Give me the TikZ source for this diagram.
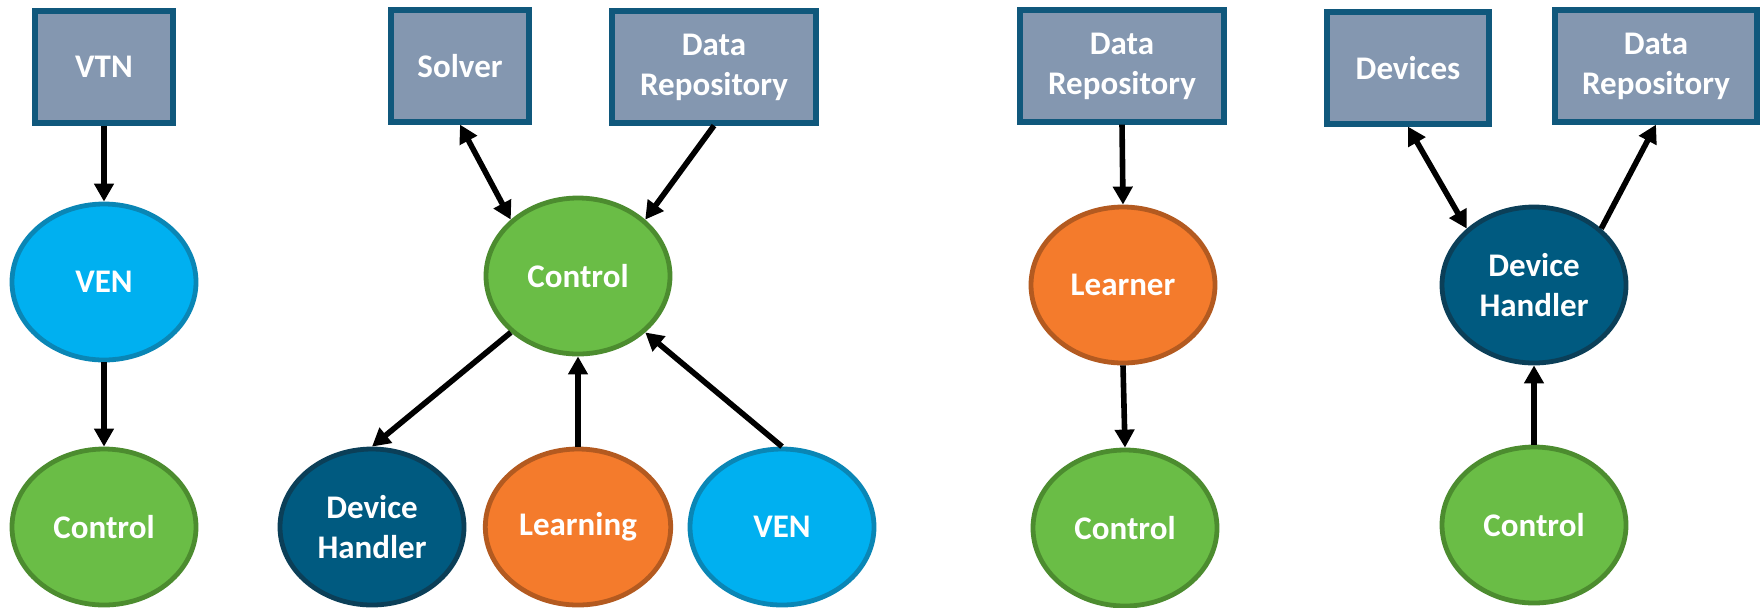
\documentclass[tikz,border=0pt]{standalone}
\usepackage{fontspec}
\setmainfont{Carlito}
\usepackage{tikz}
\usetikzlibrary{arrows.meta,shapes.geometric}

\definecolor{boxfill}{HTML}{8497B0}
\definecolor{boxline}{HTML}{10587C}
\definecolor{venfill}{HTML}{00B0F0}
\definecolor{venline}{HTML}{0A86B5}
\definecolor{ctrlfill}{HTML}{6ABD46}
\definecolor{ctrlline}{HTML}{4C8C2F}
\definecolor{dhfill}{HTML}{005A80}
\definecolor{dhline}{HTML}{0B3F58}
\definecolor{learnfill}{HTML}{F47B2C}
\definecolor{learnline}{HTML}{B35A20}

\begin{document}
\begin{tikzpicture}[x=0.5pt,y=-0.5pt,
    label text/.style={text=white, font=\fontsize{16.5}{20}\selectfont\bfseries, align=center},
    boxnode/.style={label text, rectangle, draw=boxline, fill=boxfill, line width=2.6pt, minimum height=56pt},
    ovalnode/.style={label text, ellipse, line width=2.4pt, minimum width=92pt, minimum height=78pt},
    ven/.style={ovalnode, draw=venline, fill=venfill},
    ctrl/.style={ovalnode, draw=ctrlline, fill=ctrlfill},
    dh/.style={ovalnode, draw=dhline, fill=dhfill},
    learn/.style={ovalnode, draw=learnline, fill=learnfill},
    flow/.style={line width=2.8pt, -{Triangle[length=9pt,width=9.5pt]}},
    twoway/.style={line width=2.8pt, {Triangle[length=9pt,width=9.5pt]}-{Triangle[length=9pt,width=9.5pt]}}]

\useasboundingbox (0,0) rectangle (1760,607);

% boxes along the top
\node[boxnode, minimum width=69pt] (vtn) at (104,67) {VTN};
\node[boxnode, minimum width=69pt] (solver) at (460,66) {Solver};
\node[boxnode, minimum width=102pt] (repoa) at (714,67) {Data\\Repository};
\node[boxnode, minimum width=102pt] (repob) at (1122,66) {Data\\Repository};
\node[boxnode, minimum width=81pt] (devices) at (1408,68) {Devices};
\node[boxnode, minimum width=101pt] (repoc) at (1656,66) {Data\\Repository};

% ovals
\node[ven] (vena) at (104,282) {VEN};
\node[ctrl] (ctrla) at (104,527) {Control};
\node[ctrl] (ctrlb) at (578,276) {Control};
\node[dh] (dha) at (372,527) {Device\\Handler};
\node[learn] (learning) at (578,527) {Learning};
\node[ven] (venb) at (782,527) {VEN};
\node[learn] (learner) at (1123,285) {Learner};
\node[ctrl] (ctrlc) at (1125,528) {Control};
\node[dh] (dhb) at (1534,285) {Device\\Handler};
\node[ctrl] (ctrld) at (1534,525) {Control};

% connectors
\draw[flow] (vtn.south) -- (vena.north);
\draw[flow] (vena.south) -- (ctrla.north);

\draw[twoway] (solver.south) -- (ctrlb.140);
\draw[flow] (repoa.south) -- (ctrlb.40);
\draw[flow] (ctrlb.220) -- (dha.north);
\draw[flow] (learning.north) -- (ctrlb.south);
\draw[flow] (venb.north) -- (ctrlb.-40);

\draw[flow] (repob.south) -- (learner.north);
\draw[flow] (learner.south) -- (ctrlc.north);

\draw[twoway] (devices.south) -- (dhb.140);
\draw[flow] (dhb.40) -- (repoc.south);
\draw[flow] (ctrld.north) -- (dhb.south);

\end{tikzpicture}
\end{document}
